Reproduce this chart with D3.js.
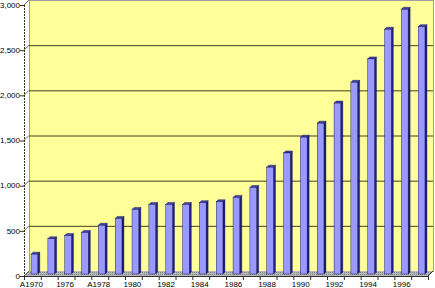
<!DOCTYPE html>
<html>
<head>
<meta charset="utf-8">
<script src="https://cdn.jsdelivr.net/npm/d3@7"></script>
<style>
  body { margin: 0; background: #fff; }
  text { font-family: "Liberation Sans", Arial, sans-serif; font-size: 8px; fill: #000; }
</style>
</head>
<body>
<svg id="ch" width="435" height="288"></svg>
<script>
// categories (only every other one gets a label on the axis)
var anni = ["A1970","1975","1976","1977","A1978","1979","1980","1981","1982","1983","1984","1985",
            "1986","1987","1988","1989","1990","1991","1992","1993","1994","1995","1996","1997"];
var valori = [220, 390, 425, 460, 540, 615, 715, 770, 770, 770, 790, 800,
              848, 958, 1183, 1340, 1515, 1670, 1892, 2122, 2381, 2709, 2931, 2738];
var yTicks = [0, 500, 1000, 1500, 2000, 2500, 3000];

var svg = d3.select("#ch");
var xLeft = 24, xRight = 428, yBase = 276, yAlto = 5;
var dep = 5;          // depth of the 3d box
var dF = 2, dB = 4;   // front and back of the bars inside the box

var x = d3.scaleBand()
    .domain(anni)
    .range([xLeft, xRight])
    .paddingInner(0.6)
    .paddingOuter(0.3);
var y = d3.scaleLinear()
    .domain([0, 3000])
    .range([yBase, yAlto]);
var step = x.step();

// back wall
svg.append("rect")
    .attr("x", xLeft + dep + 0.5).attr("y", y(3000) - dep + 0.5)
    .attr("width", xRight - xLeft).attr("height", y(0) - y(3000))
    .style("fill", "#ffff99")
    .style("stroke", "#a0a0a0").style("stroke-width", 1);

// floor with dotted pattern
var defs = svg.append("defs");
var pat = defs.append("pattern").attr("id", "pav")
    .attr("width", 2).attr("height", 2).attr("patternUnits", "userSpaceOnUse");
pat.append("rect").attr("width", 2).attr("height", 2).style("fill", "#b8b8b8");
pat.append("rect").attr("width", 1).attr("height", 1).style("fill", "#808080");

svg.append("path")
    .attr("d", "M" + xLeft + "," + yBase + "L" + xRight + "," + yBase +
               "L" + (xRight + dep) + "," + (yBase - dep) + "L" + (xLeft + dep) + "," + (yBase - dep) + "Z")
    .style("fill", "url(#pav)");

// gridlines on the wall + the little diagonals from the axis
var grid = svg.selectAll(".grid")
    .data(yTicks.filter(function (d) { return d > 0 && d < 3000; }))
    .enter().append("g").attr("class", "grid");
grid.append("line")
    .attr("x1", xLeft + dep).attr("x2", xRight + dep)
    .attr("y1", function (d) { return y(d) - dep + 0.5; })
    .attr("y2", function (d) { return y(d) - dep + 0.5; })
    .style("stroke", "#404020")
    .style("stroke-width", 1);
svg.selectAll(".diag")
    .data(yTicks).enter().append("line")
    .attr("x1", xLeft).attr("x2", xLeft + dep)
    .attr("y1", function (d) { return y(d); })
    .attr("y2", function (d) { return y(d) - dep; })
    .style("stroke", "#404040").style("stroke-width", 0.8);

// bars
var bars = svg.selectAll(".bar")
    .data(valori)
    .enter().append("g").attr("class", "bar");

function barX(i) { return x(anni[i]) + dF; }
var w = x.bandwidth(), dd = dB - dF;

bars.append("path")   // side
    .attr("d", function (d, i) {
        var x1 = barX(i) + w, yt = y(d) - dF, yb = yBase - dF;
        return "M" + x1 + "," + yt + "L" + (x1 + dd) + "," + (yt - dd) +
               "L" + (x1 + dd) + "," + (yb - dd) + "L" + x1 + "," + yb + "Z";
    })
    .style("fill", "#22227a").style("stroke", "#000050").style("stroke-width", 0.4);
bars.append("path")   // top
    .attr("d", function (d, i) {
        var x0 = barX(i), yt = y(d) - dF;
        return "M" + x0 + "," + yt + "L" + (x0 + dd) + "," + (yt - dd) +
               "L" + (x0 + w + dd) + "," + (yt - dd) + "L" + (x0 + w) + "," + yt + "Z";
    })
    .style("fill", "#4444a8").style("stroke", "#000050").style("stroke-width", 0.4);
bars.append("rect")   // front
    .attr("x", function (d, i) { return barX(i); })
    .attr("y", function (d) { return y(d) - dF; })
    .attr("width", w)
    .attr("height", function (d) { return y(0) - y(d); })
    .style("fill", "#9999ff").style("stroke", "#000050").style("stroke-width", 0.4);

// y axis
svg.append("line")
    .attr("x1", xLeft + 0.5).attr("x2", xLeft + 0.5)
    .attr("y1", y(3000)).attr("y2", yBase)
    .style("stroke", "#303030").style("stroke-dasharray", "2,1");
svg.selectAll(".ytick")
    .data(yTicks).enter().append("line")
    .attr("x1", xLeft - 4).attr("x2", xLeft)
    .attr("y1", function (d) { return y(d) + 0.5; })
    .attr("y2", function (d) { return y(d) + 0.5; })
    .style("stroke", "#303030");
svg.selectAll(".ylab")
    .data(yTicks).enter().append("text")
    .attr("x", xLeft - 4).attr("y", function (d) { return y(d); })
    .attr("dy", "0.35em")
    .attr("text-anchor", "end")
    .text(d3.format(","));

// x axis
svg.append("line")
    .attr("x1", xLeft).attr("x2", xRight)
    .attr("y1", yBase + 0.5).attr("y2", yBase + 0.5)
    .style("stroke", "#303030");
svg.append("line")
    .attr("x1", xRight).attr("x2", xRight + dep)
    .attr("y1", yBase).attr("y2", yBase - dep)
    .style("stroke", "#303030");
svg.selectAll(".xtick")
    .data(d3.range(anni.length + 1)).enter().append("line")
    .attr("x1", function (i) { return xLeft + i * step + 0.5; })
    .attr("x2", function (i) { return xLeft + i * step + 0.5; })
    .attr("y1", yBase).attr("y2", yBase + 4)
    .style("stroke", "#303030");
svg.selectAll(".xlab")
    .data(anni.filter(function (d, i) { return i % 2 == 0; }))
    .enter().append("text")
    .attr("x", function (d) { return x(d) - x.step() * x.paddingInner() / 2 + step / 2 - 1; })
    .attr("y", 287)
    .attr("text-anchor", "middle")
    .text(function (d) { return d; });
</script>
</body>
</html>
